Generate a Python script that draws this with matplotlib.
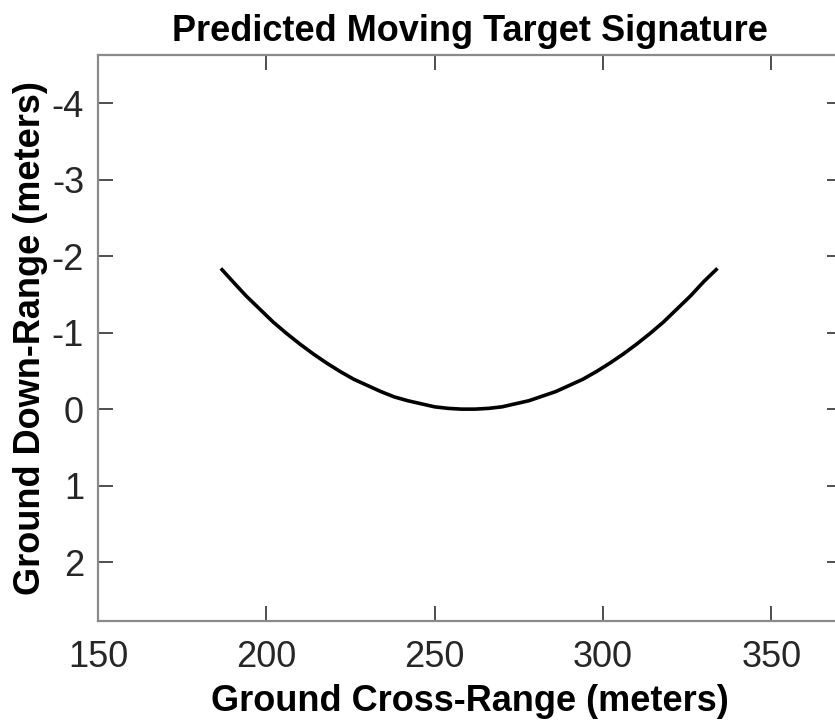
import numpy as np
import matplotlib
matplotlib.use('Agg')
import matplotlib.pyplot as plt

# data
cross_range = [186.5, 190, 194, 198, 202, 206, 210, 214, 218, 222, 226, 230, 234, 238,
               242, 246, 250, 254, 258, 262, 266, 270, 274, 278, 282, 286, 290, 294,
               298, 302, 306, 310, 314, 318, 322, 326, 330, 334]
down_range = [-1.84, -1.67, -1.48, -1.31, -1.14, -0.99, -0.85, -0.72, -0.60, -0.49, -0.39, -0.31, -0.23, -0.16,
              -0.11, -0.07, -0.03, -0.01, 0.00, 0.00, -0.01, -0.03, -0.07, -0.11, -0.17, -0.23, -0.31, -0.39,
              -0.49, -0.60, -0.72, -0.85, -0.99, -1.14, -1.31, -1.48, -1.67, -1.84]
x_ticks = [150, 200, 250, 300, 350]
y_ticks = [-4, -3, -2, -1, 0, 1, 2]

plt.rcParams['font.family'] = ['Liberation Sans', 'DejaVu Sans']
plt.rcParams['axes.unicode_minus'] = False

W, H = 835, 724
fig = plt.figure(figsize=(W / 100, H / 100), dpi=100)
# axes runs off the right edge, like the cropped original
ax = fig.add_axes([98 / W, (H - 621) / H, (842 - 98) / W, (621 - 55) / H])

ax.plot(cross_range, down_range, color='black', lw=2.6, solid_capstyle='butt')

ax.set_xlim(150, 371)
ax.set_ylim(2.77, -4.63)
ax.set_xticks(x_ticks)
ax.set_yticks(y_ticks)

for s in ax.spines.values():
    s.set_color('#8a8a8a')
    s.set_linewidth(1.6)

ax.tick_params(direction='in', length=10.5, width=1.3, color='#404040',
               labelsize=26, labelcolor='#262626', top=True, right=True)
ax.tick_params(axis='x', pad=14)
ax.tick_params(axis='y', pad=10)

ax.set_title('Predicted Moving Target Signature', fontsize=26, fontweight='bold', pad=10)
ax.set_xlabel('Ground Cross-Range (meters)', fontsize=26, fontweight='bold', labelpad=6)
ax.set_ylabel('Ground Down-Range (meters)', fontsize=26, fontweight='bold', labelpad=3)

fig.savefig('out.png', dpi=100)
